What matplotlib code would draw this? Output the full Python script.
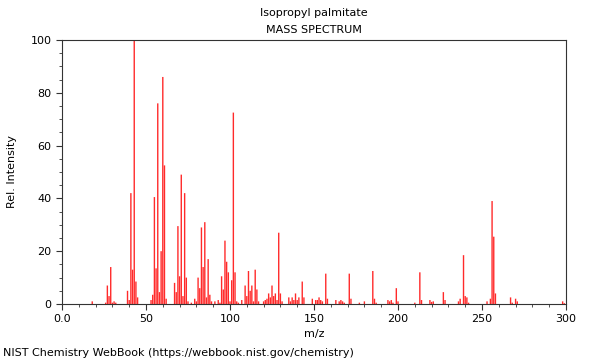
import matplotlib
matplotlib.use("Agg")
import matplotlib.pyplot as plt
from matplotlib.ticker import MultipleLocator

title = "Isopropyl palmitate"
subtitle = "MASS SPECTRUM"

mz = [18, 26, 27, 28, 29, 30, 31, 32, 39, 40, 41, 42, 43, 44, 45, 53, 54, 55, 56, 57,
      58, 59, 60, 61, 62, 67, 68, 69, 70, 71, 72, 73, 74, 75, 77, 79, 80, 81, 82, 83,
      84, 85, 86, 87, 88, 89, 91, 93, 94, 95, 96, 97, 98, 99, 100, 101, 102, 103, 104, 105,
      107, 109, 110, 111, 112, 113, 114, 115, 116, 117, 120, 121, 122, 123, 124, 125, 126, 127, 128, 129,
      130, 131, 135, 136, 137, 138, 139, 140, 141, 143, 144, 149, 151, 152, 153, 154, 155, 157, 158, 163,
      165, 166, 167, 168, 171, 172, 177, 180, 185, 186, 187, 194, 195, 196, 197, 199, 200, 210, 213, 214,
      219, 220, 221, 227, 228, 236, 237, 239, 240, 241, 242, 253, 255, 256, 257, 258, 267, 268, 270, 271,
      298, 299]
intensity = [1, 0.5, 7, 3, 14, 0.5, 1, 0.5, 5, 1.5, 42, 13, 100, 8.5, 2.5, 1.5, 3.5, 40.5, 13.5, 76,
             4.5, 20, 86, 52.5, 2, 8, 4.5, 29.5, 10.5, 49, 3, 42, 10, 1, 0.5, 2, 1, 10, 6, 29,
             14, 31, 2.5, 17, 3.5, 1, 1, 1.5, 0.5, 10.5, 5.5, 24, 16, 12, 1, 9, 72.5, 12, 1, 0.5,
             1.5, 7, 3, 12.5, 5, 7, 1, 13, 5.5, 1, 1, 1.5, 2, 4, 2.5, 7, 3, 4, 1.5, 27,
             4, 1, 2.5, 1, 2.5, 1.5, 4, 1.5, 2.5, 8.5, 2.5, 2, 1.5, 1.5, 2.5, 1.5, 1, 11.5, 2, 1.5,
             1, 1.5, 1, 0.5, 11.5, 2, 0.5, 1, 12.5, 2, 0.5, 1.5, 1, 1.5, 0.5, 6, 1, 0.5, 12, 1.5,
             1.5, 0.8, 1, 4.5, 1.5, 1, 2, 18.5, 3, 2.5, 0.5, 1, 2, 39, 25.5, 4, 2.5, 0.5, 2, 1,
             1, 0.3]

xticks = [0, 50, 100, 150, 200, 250, 300]
xticklabels = ["0.0", "50", "100", "150", "200", "250", "300"]
yticks = [0, 20, 40, 60, 80, 100]

fig = plt.figure(figsize=(6, 3.6), dpi=100)
ax = fig.add_axes([62/600, 1-304/360, (566-62)/600, (304-40)/360])
ax.vlines(mz, 0, intensity, color="#ff2a2a", linewidth=1.0, snap=False)
ax.set_xlim(0, 300)
ax.set_ylim(0, 100)
ax.set_xticks(xticks)
ax.set_xticklabels(xticklabels)
ax.set_yticks(yticks)
ax.xaxis.set_minor_locator(MultipleLocator(10))
ax.yaxis.set_minor_locator(MultipleLocator(5))
ax.tick_params(which="major", length=4, width=0.8, labelsize=8, color="#333333")
ax.tick_params(which="minor", length=2, width=0.6, color="#333333")
for s in ax.spines.values():
    s.set_color("#333333")
    s.set_linewidth(0.8)
ax.set_xlabel("m/z", fontsize=8, labelpad=3)
ax.set_ylabel("Rel. Intensity", fontsize=8, labelpad=10)
fig.text(314/600, 1-13/360, title, ha="center", va="center", fontsize=8)
fig.text(314/600, 1-30/360, subtitle, ha="center", va="center", fontsize=8)
fig.text(3/600, 1-353/360, "NIST Chemistry WebBook (https://webbook.nist.gov/chemistry)",
         ha="left", va="center", fontsize=8)
fig.savefig("out.png", dpi=100)
